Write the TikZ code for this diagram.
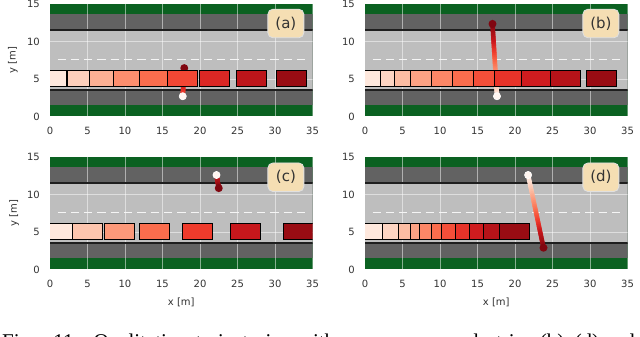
\documentclass[tikz,border=0pt]{standalone}
\usepackage{fontspec}
\setmainfont{DejaVu Sans}
\newfontfamily\capfont{Liberation Serif}

\definecolor{R0}{HTML}{FFF5F0}
\definecolor{R1}{HTML}{FEE0D2}
\definecolor{R2}{HTML}{FCBBA1}
\definecolor{R3}{HTML}{FC9272}
\definecolor{R4}{HTML}{FB6A4A}
\definecolor{R5}{HTML}{EF3B2C}
\definecolor{R6}{HTML}{CB181D}
\definecolor{R7}{HTML}{A50F15}
\definecolor{R8}{HTML}{67000D}
\definecolor{grassc}{HTML}{0B6121}
\definecolor{shoulderc}{HTML}{626262}
\definecolor{roadc}{HTML}{BEBEBE}
\definecolor{edgec}{HTML}{1E1E1E}
\definecolor{tickc}{HTML}{333333}
\definecolor{wheatc}{HTML}{F5DEB3}

\newcommand\setred[2]{%
  \pgfmathtruncatemacro\myrk{min(floor((#2)*8),7)}%
  \pgfmathtruncatemacro\myrkn{\myrk+1}%
  \pgfmathsetmacro\myrf{100*(1-((#2)*8-\myrk))}%
  \colorlet{#1}{R\myrk!\myrf!R\myrkn}%
}

\tikzset{
  gridl/.style={white, opacity=0.5, line width=0.9pt},
  edgel/.style={edgec, line width=2pt},
  centerl/.style={white!92!gray, line width=1.8pt, dash pattern=on 8.3pt off 5pt},
  ticklab/.style={font=\fontsize{10}{12}\selectfont, text=tickc, inner sep=0pt},
  axlab/.style={font=\fontsize{10}{12}\selectfont, text=tickc, inner sep=0pt},
  carbox/.style={draw=black, line width=0.8pt},
  panellab/.style={draw=white!88!black, line width=0.8pt, fill=wheatc, rounded corners=5pt,
    minimum width=36pt, minimum height=28.5pt, inner sep=0pt,
    font=\fontsize{15}{18}\selectfont, text=tickc},
  captext/.style={anchor=base west, inner sep=0pt, font=\capfont\fontsize{21}{24}\selectfont, text=black},
}

\newcommand\drawbg{%
  \fill[grassc] (0,0) rectangle (35,15);
  \fill[shoulderc] (0,1.55) rectangle (35,13.6);
  \fill[roadc] (0,3.55) rectangle (35,11.55);
  \foreach \gx in {5,10,...,30} \draw[gridl] (\gx,0) -- (\gx,15);
  \foreach \gy in {5,10} \draw[gridl] (0,\gy) -- (35,\gy);
  \draw[edgel] (0,3.55) -- (35,3.55);
  \draw[edgel] (0,11.55) -- (35,11.55);
  \draw[centerl] (1,7.6) -- (34.3,7.6);
}

\newcommand\drawcars[2]{%
  \foreach \cx [count=\ci from 0] in {#1} {%
    \pgfmathsetmacro\cu{0.08+0.82*\ci/#2}%
    \setred{cc}{\cu}%
    \draw[carbox, fill=cc] (\cx,4.05) rectangle ++(4.0,2.15);
  }%
}

\newcommand\drawtraj[6]{%
  \foreach \k in {0,...,39}{%
    \pgfmathsetmacro\sa{\k/40}%
    \pgfmathsetmacro\sb{(\k+1)/40}%
    \pgfmathsetmacro\uu{#5+(#6-#5)*(\k+0.5)/40}%
    \setred{tc}{\uu}%
    \draw[tc, line width=4.5pt, line cap=round] ({#1+(#3-#1)*\sa},{#2+(#4-#2)*\sa}) -- ({#1+(#3-#1)*\sb},{#2+(#4-#2)*\sb});
  }%
  \setred{ec}{#6}%
  \fill[ec] (#3,#4) circle[radius=4pt];
  \filldraw[fill=R0, draw=white, line width=0.6pt] (#1,#2) circle[radius=3.6pt];
}

\newcommand\drawticks[1]{%
  \foreach \t in {0,5,...,35} \node[ticklab] (#1x\t) at (\t,0) [yshift=-14.5pt] {\t};
  \foreach \t in {0,5,10,15} \node[ticklab, anchor=east] (#1y\t) at (0,\t) [xshift=-10pt] {\t};
}

\begin{document}
\begin{tikzpicture}[x=1pt,y=1pt]
\useasboundingbox (0,0) rectangle (640,337);
\clip (0,0) rectangle (640,337);
\fill[white] (0,0) rectangle (640,337);

% ---------- (a)
\begin{scope}[shift={(50,220.5)}, x=7.5pt, y=7.5pt]
  \begin{scope}
    \clip (0,0) rectangle (35,15);
    \drawbg
    \drawtraj{17.7}{2.7}{17.9}{6.45}{0.55}{0.95}
    \drawcars{-1.75,2.3,5.25,8.45,11.9,15.7,19.9,24.8,30.2}{8}
  \end{scope}
  \node[panellab] (la) at (31.45,12.4) {(a)};
  \drawticks{a}
  \node[axlab, rotate=90] (ya) at (-4.95,7.5) {y [m]};
\end{scope}

% ---------- (b)
\begin{scope}[shift={(365,220.5)}, x=7.5pt, y=7.5pt]
  \begin{scope}
    \clip (0,0) rectangle (35,15);
    \drawbg
    \drawtraj{17.6}{2.7}{17.0}{12.35}{0.04}{0.95}
    \drawcars{-2.0,2.0,3.86,6.0,8.8,11.7,14.4,17.2,20.8,24.7,29.5}{10}
  \end{scope}
  \node[panellab] (lb) at (31.45,12.4) {(b)};
  \drawticks{b}
\end{scope}

% ---------- (c)
\begin{scope}[shift={(50,67.5)}, x=7.5pt, y=7.5pt]
  \begin{scope}
    \clip (0,0) rectangle (35,15);
    \drawbg
    \drawtraj{22.2}{12.6}{22.5}{10.85}{0.7}{0.95}
    \drawcars{-1.0,3.0,7.2,11.9,17.6,24.1,31.15}{6}
  \end{scope}
  \node[panellab] (lc) at (31.45,12.3) {(c)};
  \drawticks{c}
  \node[axlab, rotate=90] (yc) at (-4.8,7.5) {y [m]};
  \node[axlab] (xc) at (17.5,0) [yshift=-32.5pt] {x [m]};
\end{scope}

% ---------- (d)
\begin{scope}[shift={(365,67.5)}, x=7.5pt, y=7.5pt]
  \begin{scope}
    \clip (0,0) rectangle (35,15);
    \drawbg
    \drawtraj{21.75}{12.6}{23.8}{2.9}{0.02}{0.95}
    \drawcars{-1.7,2.3,4.5,6.1,7.2,8.8,10.2,12.0,13.9,15.75,17.9}{10}
  \end{scope}
  \node[panellab] (ld) at (31.45,12.3) {(d)};
  \drawticks{d}
  \node[axlab] (xd) at (17.5,0) [yshift=-32.5pt] {x [m]};
\end{scope}

% ---------- caption (cut off by the page edge)
\node[captext] (cap1) at (2,-12) {\makebox[333pt][s]{Fig. 11: Qualitative trajectories with}};
\node[captext] (cap2) at (346,-12) {a nervous};
\node[captext] (cap3) at (448,-12) {pedestrian (b)–(d) and};
\end{tikzpicture}
\end{document}
